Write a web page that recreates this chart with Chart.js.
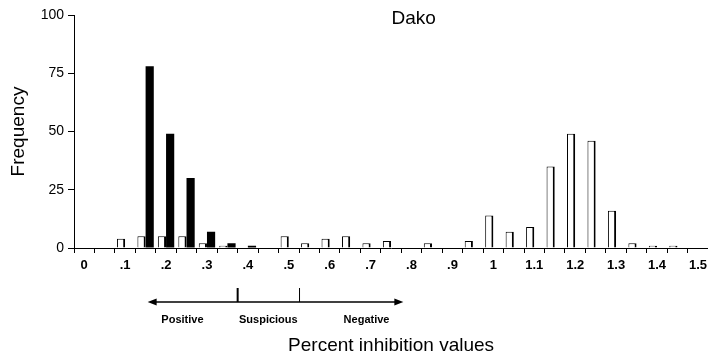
<!DOCTYPE html>
<html>
<head>
<meta charset="utf-8">
<script src="https://cdn.jsdelivr.net/npm/chart.js@4/dist/chart.umd.min.js"></script>
<style>
  html, body { margin: 0; padding: 0; background: #fff; overflow: hidden; }
  #wrap { width: 712px; height: 359px; }
</style>
</head>
<body>
<div id="wrap"><canvas id="chart" width="712" height="359"></canvas></div>
<script>
// bins of percent inhibition (width .05)
const bins = ['0','.05','.1','.15','.2','.25','.3','.35','.4','.45','.5','.55','.6','.65','.7','.75',
              '.8','.85','.9','.95','1','1.05','1.1','1.15','1.2','1.25','1.3','1.35','1.4','1.45','1.5'];
const shownTicks = ['0','.1','.2','.3','.4','.5','.6','.7','.8','.9','1','1.1','1.2','1.3','1.4','1.5'];

// frequencies
const openBars  = [0,0,4,5,5,5,2,1,0,0,5,2,4,5,2,3,0,2,0,3,14,7,9,35,49,46,16,2,1,1,0];
const solidBars = [0,0,0,78,49,30,7,2,1,0,0,0,0,0,0,0,0,0,0,0,0,0,0,0,0,0,0,0,0,0,0];

const yTicks = [0, 25, 50, 75, 100];

// interpretation zones under the axis (in inhibition units)
const arrowRange = [0.155, 0.78];
const cutoffs = [0.375, 0.525];
const zoneLabels = ['Positive', 'Suspicious', 'Negative'];
const zoneLabelAt = [0.24, 0.45, 0.69];

const FONT = "'Liberation Sans', Arial, Helvetica, sans-serif";
const binWidth = 0.05;

const extras = {
  id: 'extras',
  afterDraw(chart) {
    const ctx = chart.ctx;
    const x = chart.scales.x;
    const area = chart.chartArea;
    const px = v => x.getPixelForValue(v / binWidth);

    ctx.save();
    ctx.fillStyle = '#000';
    ctx.strokeStyle = '#000';

    // title inside the plot
    ctx.font = '19px ' + FONT;
    ctx.textAlign = 'center';
    ctx.textBaseline = 'middle';
    ctx.fillText('Dako', px(0.805), area.top + 4);

    // double arrow
    const ay = area.bottom + 54;
    const x0 = px(arrowRange[0]), x1 = px(arrowRange[1]);
    ctx.lineWidth = 1.6;
    ctx.beginPath();
    ctx.moveTo(x0 + 6, ay); ctx.lineTo(x1 - 6, ay);
    ctx.stroke();
    ctx.beginPath();
    ctx.moveTo(x0, ay); ctx.lineTo(x0 + 9, ay - 3.5); ctx.lineTo(x0 + 9, ay + 3.5); ctx.closePath();
    ctx.moveTo(x1, ay); ctx.lineTo(x1 - 9, ay - 3.5); ctx.lineTo(x1 - 9, ay + 3.5); ctx.closePath();
    ctx.fill();

    // cutoff marks
    ctx.lineWidth = 2;
    ctx.beginPath();
    ctx.moveTo(px(cutoffs[0]), ay - 14); ctx.lineTo(px(cutoffs[0]), ay);
    ctx.stroke();
    ctx.lineWidth = 1;
    ctx.beginPath();
    ctx.moveTo(px(cutoffs[1]) + 0.5, ay - 14); ctx.lineTo(px(cutoffs[1]) + 0.5, ay);
    ctx.stroke();

    // zone names
    ctx.font = 'bold 11px ' + FONT;
    zoneLabels.forEach((t, i) => ctx.fillText(t, px(zoneLabelAt[i]), ay + 18));
    ctx.restore();
  }
};

new Chart(document.getElementById('chart').getContext('2d'), {
  type: 'bar',
  data: {
    labels: bins,
    datasets: [
      { label: 'open', data: openBars, backgroundColor: '#fff', borderColor: '#000',
        borderWidth: { top: 1, left: 1, right: 2, bottom: 0 }, borderSkipped: 'bottom' },
      { label: 'solid', data: solidBars, backgroundColor: '#000', borderWidth: 0 }
    ]
  },
  options: {
    responsive: false,
    devicePixelRatio: 1,
    animation: false,
    datasets: { bar: { categoryPercentage: 0.8, barPercentage: 1.0 } },
    layout: { padding: { top: 15, right: 2, left: 0, bottom: 0 } },
    plugins: { legend: { display: false }, tooltip: { enabled: false } },
    scales: {
      x: {
        afterFit: s => { s.height = 111; },
        grid: { offset: true, drawOnChartArea: false, drawTicks: true, tickLength: 5, color: '#000' },
        border: { display: true, color: '#000', width: 1 },
        ticks: {
          autoSkip: false, maxRotation: 0, padding: 5, color: '#000',
          font: { family: FONT, size: 13, weight: 'bold' },
          callback: (v, i) => shownTicks.includes(bins[i]) ? bins[i] : ''
        },
        title: { display: true, text: 'Percent inhibition values', color: '#000',
                 font: { family: FONT, size: 19 }, padding: { top: 0, bottom: 2 } }
      },
      y: {
        min: 0, max: 100,
        afterFit: s => { s.width = 74; },
        afterBuildTicks: s => { s.ticks = yTicks.map(v => ({ value: v })); },
        grid: { drawOnChartArea: false, drawTicks: true, tickLength: 6, color: '#000' },
        border: { display: true, color: '#000', width: 1 },
        ticks: { padding: 4, color: '#000', font: { family: FONT, size: 14 } },
        title: { display: true, text: 'Frequency', color: '#000',
                 font: { family: FONT, size: 19 }, padding: { top: 7, bottom: 0 } }
      }
    }
  },
  plugins: [extras]
});
</script>
</body>
</html>
